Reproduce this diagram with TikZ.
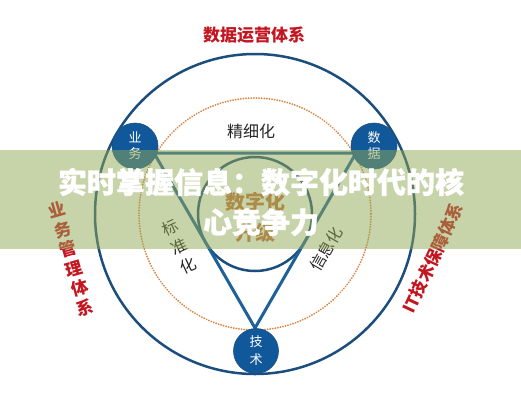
\documentclass[tikz,border=0pt]{standalone}
\usepackage{fontspec}
\newfontfamily\cjk{Noto Sans CJK SC}
\newfontfamily\cjkheavy[BoldFeatures={FakeBold=1.2}]{Noto Sans CJK SC}
\definecolor{navy}{RGB}{28,78,125}
\definecolor{tri}{RGB}{30,96,152}
\definecolor{nodeblue}{RGB}{16,88,154}
\definecolor{dotor}{RGB}{222,130,64}
\definecolor{redtxt}{RGB}{196,22,32}
\definecolor{brown}{RGB}{200,108,60}
\definecolor{band}{RGB}{145,168,85}
\tikzset{
  ring/.style={draw=navy,line width=2.5pt},
  dotring/.style={draw=dotor,line width=2pt,dash pattern=on 0.01pt off 2.6pt,line cap=round},
  triline/.style={draw=tri,line width=3pt},
  bubble/.style={circle,fill=nodeblue,draw=navy,line width=0.6pt,minimum size=46pt,inner sep=0pt,text=white,align=center,font=\cjk\fontsize{13}{16}\selectfont},
  redlabel/.style={text=redtxt,font=\cjk\bfseries\fontsize{17}{20.4}\selectfont,align=center},
  plainlabel/.style={text=black!85,font=\cjk\fontsize{16}{21}\selectfont,align=center},
}
\begin{document}
\begin{tikzpicture}[x=1pt,y=-1pt]
\useasboundingbox (0,0) rectangle (521,400);
\fill[white] (0,0) rectangle (521,400);
% circles
\coordinate (O) at (255,214);
\draw[ring] (O) circle[radius=160];
\draw[dotring] (O) circle[radius=116];
\draw[ring] (O) circle[radius=57];
% triangle
\coordinate (A) at (154,153);
\coordinate (B) at (356,153);
\coordinate (C) at (255,328);
\draw[triline,line join=round] (A) -- (B) -- (C) -- cycle;
% nodes
\node[bubble] (yw) at (135,146) {业\\务};
\node[bubble] (sj) at (374,146) {数\\据};
\node[bubble,minimum size=45pt,font=\cjk\fontsize{13}{18}\selectfont] (js) at (256,351) {技\\术};
% labels
\node[text=redtxt,font=\cjk\bfseries\fontsize{17}{20}\selectfont] (top) at (254,35) {数据运营体系};
\node[plainlabel] (jxh) at (251,131) {精细化};
\node[plainlabel,rotate=25] (bzh) at (179,247) {标\\准\\化};
\node[plainlabel,rotate=60] (xxh) at (326,249) {信息化};
\node[text=brown,font=\cjk\bfseries\fontsize{20}{31}\selectfont,align=center] (szh) at (255,217) {数字化\\升级};
\node[redlabel,rotate=16] (ywgl) at (71,259) {业\\务\\管\\理\\体\\系};
\node[redlabel,rotate=65] (itbz) at (433,258) {IT技术保障体系};
% banner
\fill[band,opacity=0.5] (0,150) rectangle (521,249);
\node[text=white,font=\cjkheavy\bfseries\fontsize{29}{40}\selectfont,align=center] (title) at (261,202) {实时掌握信息：数字化时代的核\\心竞争力};
\end{tikzpicture}
\end{document}
